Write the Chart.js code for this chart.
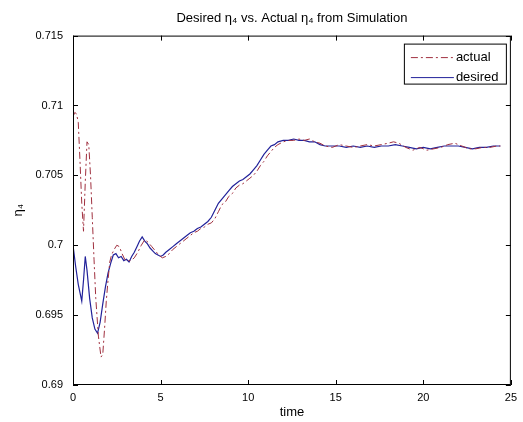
<!DOCTYPE html>
<html>
<head>
<meta charset="utf-8">
<script src="https://cdn.jsdelivr.net/npm/chart.js@4"></script>
<style>
  html, body { margin: 0; padding: 0; background: #fff; }
</style>
</head>
<body>
<canvas id="etaChart" width="523" height="422"></canvas>
<script>
// eta_4 from simulation vs. the desired trajectory
const timeActual = [0, 0.1, 0.2, 0.3, 0.4, 0.5, 0.6, 0.7, 0.8, 0.9, 1.0, 1.1, 1.2, 1.3, 1.45, 1.6, 1.7, 1.8, 1.9, 2.0,
  2.1, 2.2, 2.35, 2.5, 2.65, 2.8, 2.95, 3.1, 3.3, 3.5, 3.7, 3.9, 4.1, 4.3, 4.5, 4.7, 4.9, 5.1, 5.3, 5.5,
  5.7, 5.9, 6.1, 6.3, 6.5, 6.7, 6.9, 7.1, 7.3, 7.5, 7.7, 7.9, 8.1, 8.3, 8.5, 8.7, 8.9, 9.1, 9.3, 9.5,
  9.7, 9.9, 10.1, 10.3, 10.5, 10.7, 10.9, 11.1, 11.3, 11.5, 11.7, 12.0, 12.3, 12.6, 12.9, 13.2, 13.5, 13.8, 14.1, 14.4,
  14.8, 15.2, 15.6, 16.0, 16.4, 16.8, 17.2, 17.6, 18.0, 18.3, 18.6, 19.0, 19.4, 19.8, 20.2, 20.6, 21.0, 21.4, 21.8, 22.2,
  22.6, 23.0, 23.4, 23.8, 24.2, 24.4];
const actualEta = [0.7092, 0.7095, 0.7094, 0.7088, 0.7060, 0.7030, 0.7010, 0.7045, 0.7074, 0.7072, 0.7050, 0.7020, 0.6990, 0.6962, 0.6935, 0.6920, 0.6922, 0.6940, 0.6960, 0.6975,
  0.6988, 0.6993, 0.6997, 0.7000, 0.6999, 0.6994, 0.6990, 0.6989, 0.6989, 0.6991, 0.6995, 0.7000, 0.7004, 0.7002, 0.6999, 0.6996, 0.6993, 0.6991, 0.6992, 0.6994,
  0.6997, 0.6999, 0.7001, 0.7003, 0.7005, 0.7007, 0.7009, 0.7010, 0.7012, 0.7013, 0.7015, 0.7016, 0.7019, 0.7024, 0.7029, 0.7031, 0.7035, 0.7037, 0.7041, 0.7043,
  0.7044, 0.7046, 0.7048, 0.7050, 0.7053, 0.7057, 0.7060, 0.7064, 0.7067, 0.7070, 0.7072, 0.7074, 0.7075, 0.7075, 0.7076, 0.7075, 0.7076, 0.7074, 0.7073, 0.7071,
  0.7070, 0.7072, 0.7071, 0.7070, 0.7071, 0.7072, 0.7071, 0.7072, 0.7073, 0.7074, 0.7073, 0.7070, 0.7068, 0.7070, 0.7068, 0.7069, 0.7070, 0.7072, 0.7073, 0.7071,
  0.7069, 0.7069, 0.7070, 0.7070, 0.7071, 0.7071];

const timeDesired = [0, 0.15, 0.3, 0.5, 0.6, 0.7, 0.8, 0.95, 1.1, 1.25, 1.4, 1.55, 1.7, 1.85, 2.0, 2.15, 2.3, 2.45, 2.6, 2.75,
  2.9, 3.05, 3.2, 3.35, 3.5, 3.65, 3.8, 3.95, 4.1, 4.25, 4.4, 4.55, 4.7, 4.85, 5.0, 5.15, 5.3, 5.5, 5.7, 5.9,
  6.1, 6.3, 6.5, 6.7, 6.9, 7.1, 7.3, 7.5, 7.7, 7.9, 8.1, 8.3, 8.5, 8.7, 8.9, 9.1, 9.3, 9.5, 9.7, 9.9,
  10.1, 10.3, 10.5, 10.7, 10.9, 11.1, 11.3, 11.5, 11.7, 12.0, 12.3, 12.6, 12.9, 13.2, 13.5, 13.8, 14.1, 14.4, 14.8, 15.2,
  15.6, 16.0, 16.4, 16.8, 17.2, 17.6, 18.0, 18.4, 18.8, 19.2, 19.6, 20.0, 20.4, 20.8, 21.2, 21.6, 22.0, 22.4, 22.8, 23.2,
  23.6, 24.0, 24.4];
const desiredEta = [0.7000, 0.6985, 0.6972, 0.6960, 0.6975, 0.6992, 0.6982, 0.6962, 0.6948, 0.6940, 0.6937, 0.6945, 0.6958, 0.6970, 0.6980, 0.6987, 0.6993, 0.6994, 0.6991, 0.6992,
  0.6989, 0.6990, 0.6988, 0.6992, 0.6995, 0.6999, 0.7003, 0.7006, 0.7003, 0.7001, 0.6998, 0.6996, 0.6994, 0.6993, 0.6992, 0.6993, 0.6995, 0.6997, 0.6999, 0.7001,
  0.7003, 0.7005, 0.7007, 0.7009, 0.7010, 0.7012, 0.7013, 0.7015, 0.7017, 0.7020, 0.7025, 0.7030, 0.7033, 0.7036, 0.7039, 0.7042, 0.7044, 0.7046, 0.7047, 0.7049,
  0.7051, 0.7054, 0.7057, 0.7061, 0.7065, 0.7068, 0.7071, 0.7072, 0.7074, 0.7075, 0.7075, 0.7076, 0.7075, 0.7075, 0.7074, 0.7074, 0.7072, 0.7071, 0.7071, 0.7071,
  0.7070, 0.7071, 0.7070, 0.7071, 0.7070, 0.7071, 0.7071, 0.7072, 0.7071, 0.7070, 0.7069, 0.7070, 0.7069, 0.7070, 0.7071, 0.7071, 0.7071, 0.7070, 0.7069, 0.7070,
  0.7070, 0.7071, 0.7071];

const xTicks = [0, 5, 10, 15, 20, 25];
const yTicks = [0.69, 0.695, 0.7, 0.705, 0.71, 0.715];

const FONT = 'Liberation Sans';

// matlab-style box around the plot with inward ticks, plus a boxed legend
const axesBox = {
  id: 'axesBox',
  afterDatasetsDraw(chart) {
    const { ctx, chartArea: a, scales } = chart;
    ctx.save();
    ctx.strokeStyle = '#000';
    ctx.lineWidth = 1;
    ctx.strokeRect(a.left + 0.5, a.top + 0.5, a.right - a.left - 1, a.bottom - a.top - 1);
    ctx.beginPath();
    xTicks.forEach(v => {
      const x = Math.round(scales.x.getPixelForValue(v)) + 0.5;
      ctx.moveTo(x, a.bottom); ctx.lineTo(x, a.bottom - 5);
      ctx.moveTo(x, a.top); ctx.lineTo(x, a.top + 5);
    });
    yTicks.forEach(v => {
      const y = Math.round(scales.y.getPixelForValue(v)) + 0.5;
      ctx.moveTo(a.left, y); ctx.lineTo(a.left + 5, y);
      ctx.moveTo(a.right, y); ctx.lineTo(a.right - 5, y);
    });
    ctx.stroke();

    // legend
    const lx = a.right - 107, ly = a.top + 8, lw = 102, lh = 40;
    ctx.fillStyle = '#fff';
    ctx.fillRect(lx, ly, lw, lh);
    ctx.strokeRect(lx + 0.5, ly + 0.5, lw, lh);
    ctx.font = '13px "' + FONT + '"';
    ctx.textBaseline = 'middle';
    chart.data.datasets.forEach((ds, i) => {
      const y = ly + 14 + i * 20;
      ctx.strokeStyle = ds.borderColor;
      ctx.lineWidth = 1;
      ctx.setLineDash(ds.borderDash || []);
      ctx.beginPath();
      ctx.moveTo(lx + 7, y); ctx.lineTo(lx + 50, y);
      ctx.stroke();
      ctx.setLineDash([]);
      ctx.fillStyle = '#000';
      ctx.fillText(ds.label, lx + 52, y);
    });
    ctx.restore();
  }
};

new Chart(document.getElementById('etaChart'), {
  type: 'line',
  data: {
    datasets: [{
      label: 'actual',
      data: timeActual.map((t, i) => ({ x: t, y: actualEta[i] })),
      borderColor: '#a0303f',
      borderWidth: 1,
      borderDash: [7, 3, 2, 3],
      pointRadius: 0,
      tension: 0
    }, {
      label: 'desired',
      data: timeDesired.map((t, i) => ({ x: t, y: desiredEta[i] })),
      borderColor: '#22229a',
      borderWidth: 1.2,
      pointRadius: 0,
      tension: 0
    }]
  },
  options: {
    responsive: false,
    animation: false,
    layout: { padding: { left: 0, right: 10, top: 0, bottom: 0 } },
    plugins: {
      legend: { display: false },
      tooltip: { enabled: false },
      title: {
        display: true,
        fullSize: false,
        text: 'Desired η₄ vs. Actual η₄ from Simulation',
        color: '#000',
        font: { family: FONT, size: 13, weight: 'normal' },
        padding: { top: 11, bottom: 9 }
      }
    },
    scales: {
      x: {
        type: 'linear',
        min: 0,
        max: 25,
        afterBuildTicks: s => { s.ticks = xTicks.map(v => ({ value: v })); },
        afterFit: s => { s.height = 37; },
        grid: { display: false, drawTicks: false },
        border: { display: false },
        ticks: { color: '#000', padding: 6, maxRotation: 0, font: { family: FONT, size: 11 } },
        title: { display: true, text: 'time', color: '#000', font: { family: FONT, size: 13 }, padding: { top: 0, bottom: 2 } }
      },
      y: {
        min: 0.69,
        max: 0.715,
        afterBuildTicks: s => { s.ticks = yTicks.map(v => ({ value: v })); },
        afterFit: s => { s.width = 73; },
        grid: { display: false, drawTicks: false },
        border: { display: false },
        ticks: {
          color: '#000', padding: 10, font: { family: FONT, size: 11 },
          callback: v => String(+v.toFixed(3))
        },
        title: { display: true, text: 'η₄', color: '#000', font: { family: FONT, size: 13 }, padding: { top: 11, bottom: 0 } }
      }
    }
  },
  plugins: [axesBox]
});
</script>
</body>
</html>
